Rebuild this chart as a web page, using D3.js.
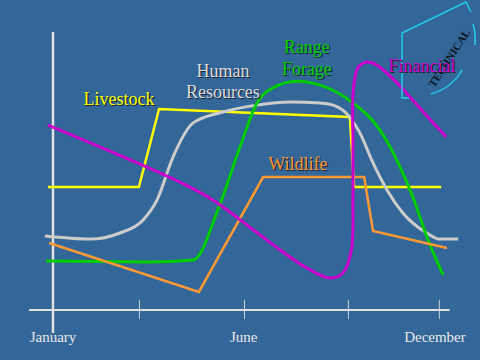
<!DOCTYPE html>
<html><head><meta charset="utf-8">
<script src="https://cdn.jsdelivr.net/npm/d3@7"></script>
<style>html,body{margin:0;padding:0;background:#336699;}svg{display:block;}</style>
</head><body>
<svg id="c" width="480" height="360"></svg>
<script>
// x: 0 = January axis, 100 = December; y: 0 = baseline, 100 = top of axis
const monthLabels = ["January", "June", "December"];
const monthLabelPos = [0, 49.3, 98.7];
const tickValues = [22.2, 49.35, 76.2, 99.7];

const livestock = [[-1.3,44.2],[22.2,44.2],[27.4,72.3],[76.7,69.4],[77.8,44.2],[100.3,44.2]];
const wildlife = [[-1.0,24.1],[37.7,6.5],[54.3,47.8],[80.4,47.8],[82.7,28.4],[101.8,22.3]];
const rangeForage = [[-1.8,17.6],[25.1,17.3],[36.2,18.0],[42.9,37.1],[48.3,58.6],[52.7,74.5],[56.8,79.9],[63.0,82.3],[69.0,80.9],[77.5,74.5],[84.5,64.7],[89.7,51.4],[93.0,40.6],[96.6,26.3],[100.8,12.6]];
const humanResources = [[-2.1,26.6],[9.6,25.5],[17.3,27.7],[23.3,32.4],[26.9,39.6],[31.0,55.0],[36.2,67.3],[43.9,71.2],[52.7,73.7],[61.2,74.8],[69.0,74.5],[72.4,73.7],[76.7,69.4],[79.3,63.7],[82.7,52.9],[86.3,43.2],[90.4,34.9],[96.6,27.7],[100,25.5],[104.7,25.5]];
const financial = [[-1.3,66.5],[32.8,46.0],[41.3,39.6],[50.1,30.6],[58.7,21.6],[65.6,15.1],[71.6,11.5],[74.9,13.3],[77.1,21.6],[77.5,39.6],[77.5,61.2],[77.6,79.1],[78.8,87.1],[81.1,89.2],[83.7,88.1],[88.9,81.7],[94.1,73.7],[101.6,62.2]];

const labels = [
  {lines:["Livestock"], x:17.05, y:[73.7], color:"#ffff00"},
  {lines:["Human","Resources"], x:43.9, y:[83.8,76.3], color:"#dddddd"},
  {lines:["Range","Forage"], x:65.6, y:[92.4,84.5], color:"#00cc00"},
  {lines:["Wildlife"], x:63.3, y:[50.4], color:"#ff9933"},
  {lines:["Financial"], x:95.3, y:[85.6], color:"#cc00cc"}
];

const svg = d3.select("#c");
const x = d3.scaleLinear().domain([0,100]).range([53,440]);
const y = d3.scaleLinear().domain([0,100]).range([310,32]);

svg.append("rect").attr("width",480).attr("height",360).attr("fill","#336699");

// axes
svg.append("line").attr("x1",x(-6.2)).attr("x2",x(102.5)).attr("y1",y(0)).attr("y2",y(0))
  .attr("stroke","#e0e0e0").attr("stroke-width",2);
svg.append("line").attr("x1",x(0)).attr("x2",x(0)).attr("y1",y(100)).attr("y2",y(-8.3))
  .attr("stroke","#e0e0e0").attr("stroke-width",2.5);

const ax = svg.append("g").attr("transform",`translate(0,${y(0)})`)
  .call(d3.axisBottom(x).tickValues(tickValues).tickSize(9).tickFormat(""));
ax.select(".domain").remove();
ax.selectAll(".tick line").attr("y1",-10).attr("y2",9).attr("stroke","#c8d4e0").attr("stroke-width",1);

svg.selectAll("text.month").data(monthLabels).join("text").attr("class","month")
  .attr("x",(d,i)=>x(monthLabelPos[i])).attr("y",342)
  .attr("text-anchor","middle").attr("font-family","Liberation Serif, Times New Roman, serif")
  .attr("font-size",15).attr("fill","#e8e8e8").text(d=>d);

// curves
const smooth = d3.line().x(d=>x(d[0])).y(d=>y(d[1])).curve(d3.curveCatmullRom.alpha(0.5));
const mono = d3.line().x(d=>x(d[0])).y(d=>y(d[1])).curve(d3.curveMonotoneX);
const straight = d3.line().x(d=>x(d[0])).y(d=>y(d[1]));

svg.append("path").attr("d",straight(livestock)).attr("fill","none").attr("stroke","#ffff00").attr("stroke-width",2.5);
svg.append("path").attr("d",mono(humanResources)).attr("fill","none").attr("stroke","#cccccc").attr("stroke-width",3);
svg.append("path").attr("d",mono(rangeForage)).attr("fill","none").attr("stroke","#00cc00").attr("stroke-width",3);
svg.append("path").attr("d",straight(wildlife)).attr("fill","none").attr("stroke","#ff9933").attr("stroke-width",2.5);
svg.append("path").attr("d",smooth(financial)).attr("fill","none").attr("stroke","#cc00cc").attr("stroke-width",3);

// decoration (clip-art) top right
svg.append("path").attr("d","M409,98 L402,98 L402,33 L466,2 L471,12")
  .attr("fill","none").attr("stroke","#22ccee").attr("stroke-width",1.5);
svg.append("path").attr("d","M431,94 Q452,88 462,70").attr("fill","none").attr("stroke","#22ccee").attr("stroke-width",1.5);
svg.append("path").attr("d","M473,24 Q476,34 475,45").attr("fill","none").attr("stroke","#22ccee").attr("stroke-width",1.5);
svg.append("text").attr("x",0).attr("y",4).attr("transform","translate(449,58) rotate(-57)")
  .attr("text-anchor","middle")
  .attr("font-family","Liberation Serif, Times New Roman, serif").attr("font-size",11).attr("font-weight","bold")
  .attr("fill","#0a1622")
  .text("TECHNICAL");

// labels with shadow
labels.forEach(l=>{
  l.lines.forEach((t,i)=>{
    const common = g => g.attr("text-anchor","middle").attr("font-family","Liberation Serif, Times New Roman, serif").attr("font-size",18).text(t);
    svg.append("text").attr("x",x(l.x)+1.2).attr("y",y(l.y[i])+1.2).attr("fill","#1a2230").call(common);
    svg.append("text").attr("x",x(l.x)).attr("y",y(l.y[i])).attr("fill",l.color).call(common);
  });
});
</script>
</body></html>
